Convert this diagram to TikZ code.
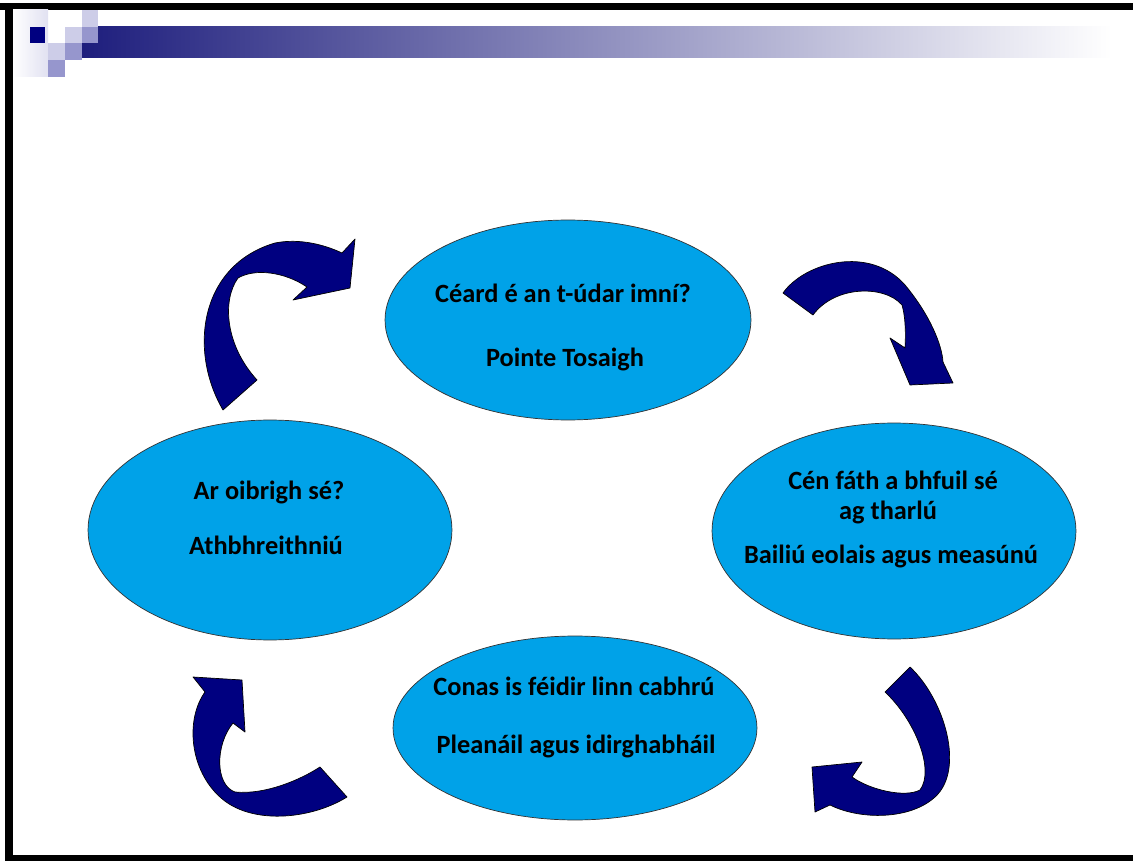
\documentclass[tikz,border=0pt]{standalone}
\usepackage{fontspec}
\setmainfont{Carlito}
\usetikzlibrary{shapes.geometric}
\definecolor{blobfill}{RGB}{0,162,232}
\definecolor{arrownavy}{RGB}{0,0,128}
\definecolor{barnavy}{RGB}{30,30,125}
\definecolor{sqlight}{RGB}{205,205,232}
\definecolor{sqmid}{RGB}{150,150,205}
\begin{document}
\begin{tikzpicture}[x=0.02cm, y=-0.02cm,
    blob/.style={ellipse, draw=black!80, thin, fill=blobfill, inner sep=0pt},
    lbl/.style={anchor=base, font=\fontsize{15}{18}\selectfont\bfseries},
    curlarrow/.style={fill=arrownavy, draw=black, thin, line join=round}]
    \useasboundingbox (0,0) rectangle (1133,861);
    \fill[white] (0,0) rectangle (1133,861);

    % Frame
    \fill[black] (0,3) rectangle (1133,10);
    \fill[black] (5,3) rectangle (13,861);
    \fill[black] (5,855) rectangle (1133,861);

    % Title bar and squares
    \shade[left color=barnavy, right color=white] (82,27) rectangle (1112,58);
    \shade[left color=white, right color=sqlight!60] (13,10) rectangle (48,77);
    \fill[sqlight] (82,10) rectangle (98,27);
    \fill[sqmid] (82,27) rectangle (98,43);
    \fill[sqlight] (65,27) rectangle (82,43);
    \fill[sqmid] (65,43) rectangle (82,60);
    \fill[sqlight] (48,43) rectangle (65,60);
    \fill[sqmid] (48,60) rectangle (65,77);
    \fill[arrownavy] (30,27) rectangle (45,43);

    % Ellipses
    \node[blob, minimum width=7.32cm, minimum height=4cm] (start) at (568,320) {};
    \node[blob, minimum width=7.28cm, minimum height=4.32cm] (why) at (894,531) {};
    \node[blob, minimum width=7.28cm, minimum height=3.68cm] (plan) at (575,728) {};
    \node[blob, minimum width=7.28cm, minimum height=4.4cm] (review) at (270,530) {};

    % Texts
    \node[lbl] (start1) at (563,303) {Céard é an t-údar imní?};
    \node[lbl] (start2) at (565,367) {Pointe Tosaigh};
    \node[lbl] (why1) at (893,490) {Cén fáth a bhfuil sé};
    \node[lbl] (why2) at (888,520) {ag tharlú};
    \node[lbl] (why3) at (891,563) {Bailiú eolais agus measúnú};
    \node[lbl] (plan1) at (574,695) {Conas is féidir linn cabhrú};
    \node[lbl] (plan2) at (576,753) {Pleanáil agus idirghabháil};
    \node[lbl] (review1) at (269,500) {Ar oibrigh sé?};
    \node[lbl] (review2) at (266,555) {Athbhreithniú};

    % Curved arrows
    \filldraw[curlarrow] (223,410) .. controls (188,350) and (200,265) .. (275,243)
        .. controls (300,238) and (325,245) .. (342,253) -- (355,239) -- (350,288)
        -- (293,300) -- (307,287) .. controls (285,272) and (255,268) .. (238,278)
        .. controls (222,300) and (225,345) .. (257,380) -- cycle;
    \filldraw[curlarrow] (783,293) .. controls (805,262) and (870,245) .. (905,285)
        .. controls (930,315) and (942,345) .. (943,362) -- (953,383) -- (910,385)
        -- (890,338) -- (905,348) .. controls (906,330) and (905,315) .. (902,305)
        .. controls (885,285) and (835,285) .. (813,315) -- cycle;
    \filldraw[curlarrow] (910,667) .. controls (945,700) and (965,770) .. (935,797)
        .. controls (910,820) and (860,820) .. (830,805) -- (815,812) -- (812,767)
        -- (862,762) -- (852,777) .. controls (870,790) and (905,798) .. (920,790)
        .. controls (935,770) and (915,720) .. (885,692) -- cycle;
    \filldraw[curlarrow] (193,677) -- (242,680) -- (245,732) -- (233,723)
        .. controls (215,745) and (215,785) .. (235,792)
        .. controls (265,795) and (300,780) .. (320,767) -- (347,797)
        .. controls (310,820) and (250,825) .. (220,797)
        .. controls (190,770) and (185,720) .. (205,692) -- cycle;
\end{tikzpicture}
\end{document}
